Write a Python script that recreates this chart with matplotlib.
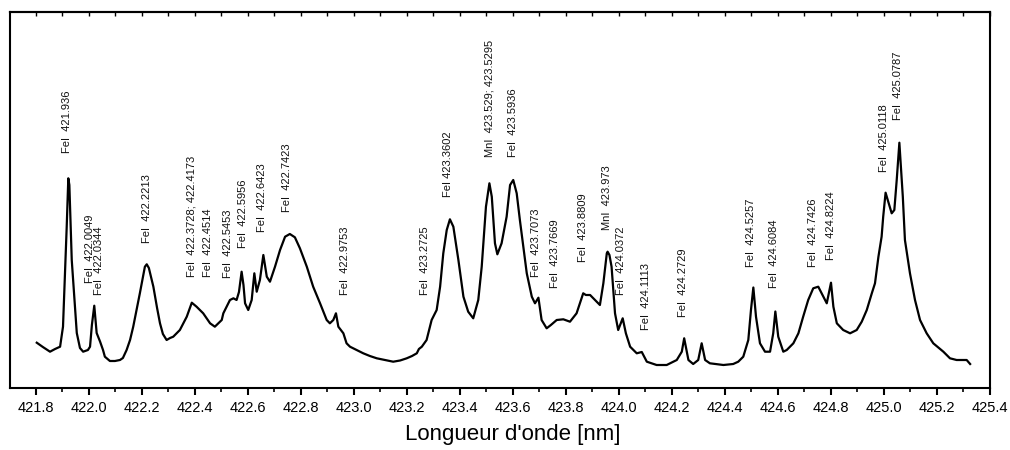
import matplotlib
matplotlib.use("Agg")
import matplotlib.pyplot as plt
from matplotlib.ticker import MultipleLocator

plt.rcParams["font.family"] = ["Liberation Sans", "DejaVu Sans"]

# spectrum (wavelength in nm, intensity in arbitrary units)
wavelength_nm = [
    421.803, 421.826, 421.853, 421.872, 421.891, 421.902, 421.916, 421.922,
    421.926, 421.935, 421.954, 421.966, 421.978, 421.996, 422.004, 422.011,
    422.020, 422.029, 422.042, 422.053, 422.060, 422.079, 422.098, 422.117,
    422.128, 422.142, 422.155, 422.167, 422.192, 422.211, 422.218, 422.226,
    422.243, 422.257, 422.268, 422.279, 422.293, 422.306, 422.318, 422.343,
    422.369, 422.388, 422.406, 422.431, 422.457, 422.475, 422.501, 422.507,
    422.532, 422.545, 422.557, 422.566, 422.576, 422.583, 422.589, 422.601,
    422.614, 422.624, 422.633, 422.645, 422.658, 422.671, 422.683, 422.702,
    422.721, 422.740, 422.758, 422.777, 422.796, 422.822, 422.846, 422.872,
    422.897, 422.909, 422.922, 422.932, 422.941, 422.960, 422.972, 422.985,
    423.010, 423.035, 423.060, 423.086, 423.117, 423.148, 423.174, 423.199,
    423.219, 423.237, 423.245, 423.256, 423.274, 423.293, 423.312, 423.325,
    423.337, 423.350, 423.362, 423.375, 423.394, 423.413, 423.431, 423.450,
    423.469, 423.482, 423.498, 423.511, 423.520, 423.532, 423.541, 423.557,
    423.576, 423.589, 423.601, 423.614, 423.626, 423.652, 423.671, 423.683,
    423.696, 423.708, 423.727, 423.743, 423.765, 423.790, 423.815, 423.840,
    423.865, 423.875, 423.891, 423.916, 423.928, 423.941, 423.954, 423.957,
    423.964, 423.972, 423.985, 423.997, 424.014, 424.026, 424.042, 424.067,
    424.086, 424.105, 424.142, 424.180, 424.218, 424.237, 424.246, 424.262,
    424.280, 424.299, 424.312, 424.325, 424.343, 424.394, 424.431, 424.450,
    424.469, 424.488, 424.498, 424.507, 424.517, 424.532, 424.551, 424.570,
    424.582, 424.590, 424.601, 424.620, 424.633, 424.658, 424.677, 424.695,
    424.714, 424.733, 424.752, 424.771, 424.784, 424.800, 424.809, 424.822,
    424.834, 424.846, 424.872, 424.897, 424.916, 424.935, 424.954, 424.966,
    424.979, 424.991, 424.997, 425.006, 425.016, 425.029, 425.039, 425.048,
    425.058, 425.071, 425.079, 425.098, 425.117, 425.136, 425.161, 425.186,
    425.224, 425.249, 425.274, 425.312, 425.325,
]
intensity = [
    45.3, 41.0, 36.3, 39.0, 41.3, 61.3, 161.3, 209.7,
    203.0, 128.0, 55.0, 40.0, 36.3, 38.0, 41.3, 63.0,
    82.3, 55.0, 46.3, 38.0, 31.3, 27.0, 27.0, 28.0,
    30.0, 38.0, 48.0, 61.3, 94.7, 121.3, 123.7, 120.0,
    101.3, 80.0, 64.7, 54.0, 48.0, 50.0, 51.3, 58.0,
    71.3, 85.3, 81.3, 74.7, 64.7, 61.3, 68.0, 74.7,
    88.0, 89.7, 88.0, 96.0, 116.3, 103.0, 84.7, 78.0,
    88.0, 114.7, 96.3, 108.0, 133.0, 111.3, 106.3, 121.3,
    138.0, 151.3, 154.0, 150.7, 139.7, 121.3, 101.3, 84.7,
    68.0, 64.7, 68.0, 74.7, 61.3, 54.7, 44.7, 41.3,
    38.0, 34.7, 32.0, 29.7, 28.0, 26.3, 27.5, 29.7,
    32.0, 34.7, 39.0, 41.3, 48.0, 68.0, 78.0, 101.3,
    134.7, 158.0, 168.7, 161.3, 128.0, 91.3, 76.3, 69.7,
    88.0, 121.3, 181.3, 204.7, 191.3, 144.7, 133.7, 144.7,
    171.3, 203.0, 208.0, 194.7, 168.0, 114.7, 91.3, 84.7,
    90.3, 68.0, 59.7, 63.0, 68.0, 68.7, 66.3, 74.7,
    94.7, 93.0, 93.0, 86.3, 83.0, 104.7, 134.7, 136.3,
    133.0, 121.3, 74.7, 58.0, 69.7, 54.7, 41.3, 34.7,
    36.0, 26.3, 23.0, 23.0, 28.0, 36.3, 49.7, 28.0,
    24.0, 28.0, 44.7, 28.0, 24.7, 23.0, 24.0, 26.3,
    31.3, 48.0, 78.0, 100.5, 71.3, 44.7, 36.3, 36.3,
    54.7, 76.5, 51.3, 36.3, 38.0, 44.7, 54.7, 71.3,
    88.0, 99.7, 101.3, 91.3, 84.7, 105.3, 81.3, 64.7,
    61.3, 58.0, 54.7, 58.0, 66.3, 78.0, 94.7, 104.7,
    131.3, 151.3, 171.3, 195.3, 186.3, 174.7, 178.0, 208.0,
    245.3, 191.3, 148.0, 114.7, 88.0, 68.0, 54.7, 44.7,
    36.3, 29.7, 28.0, 28.0, 24.0,
]

# line identifications: text, position (nm), height of the text foot
line_labels = [
    "FeI  421.936", "FeI  422.0049", "FeI  422.0344", "FeI  422.2213",
    "FeI  422.3728; 422.4173", "FeI  422.4514", "FeI  422.5453", "FeI  422.5956",
    "FeI  422.6423", "FeI  422.7423", "FeI  422.9753", "FeI  423.2725",
    "FeI 423.3602", "MnI  423.529; 423.5295", "FeI  423.5936", "FeI  423.7073",
    "FeI  423.7669", "FeI  423.8809", "MnI  423.973", "FeI  424.0372",
    "FeI  424.1113", "FeI  424.2729", "FeI  424.5257", "FeI  424.6084",
    "FeI  424.7426", "FeI  424.8224", "FeI  425.0118", "FeI  425.0787",
]
label_x = [
    421.916, 422.004, 422.039, 422.218, 422.388, 422.450, 422.523, 422.580,
    422.652, 422.748, 422.966, 423.268, 423.356, 423.511, 423.599, 423.687,
    423.758, 423.863, 423.954, 424.008, 424.102, 424.243, 424.498, 424.585,
    424.733, 424.799, 425.001, 425.054,
]
label_y = [
    234.7, 105.0, 93.0, 145.3, 111.3, 111.3, 109.7, 139.7,
    156.3, 176.3, 93.0, 93.0, 191.3, 231.3, 231.3, 111.3,
    99.7, 126.3, 158.0, 93.0, 58.0, 71.3, 121.3, 99.7,
    121.3, 128.0, 216.3, 268.0,
]

fig = plt.figure(figsize=(10.1, 4.5), dpi=100)
ax = fig.add_axes([10 / 1010, 62 / 450, 980 / 1010, 376 / 450])

ax.plot(wavelength_nm, intensity, color="black", lw=1.6)

for txt, x, y in zip(line_labels, label_x, label_y):
    ax.text(x, y, txt, rotation=90, ha="center", va="bottom",
            fontsize=8, color="#111111")

ax.set_xlim(421.702, 425.4)
ax.set_ylim(0, 376)
ax.set_yticks([])

ax.xaxis.set_major_locator(MultipleLocator(0.2))
ax.xaxis.set_minor_locator(MultipleLocator(0.1))
ax.xaxis.set_major_formatter(plt.FuncFormatter(lambda v, p: f"{v:.1f}"))
ax.tick_params(axis="x", which="major", direction="out", length=5,
               width=1.5, labelsize=10.5, pad=4)
ax.tick_params(axis="x", which="minor", direction="out", length=3, width=1.2)

top = ax.secondary_xaxis("top")
top.xaxis.set_major_locator(MultipleLocator(0.1))
top.tick_params(axis="x", direction="in", length=3, width=1.0,
                labeltop=False)
top.spines["top"].set_linewidth(1.5)

for s in ax.spines.values():
    s.set_linewidth(1.5)

ax.set_xlabel("Longueur d'onde [nm]", fontsize=16)
ax.xaxis.set_label_coords(0.513, -0.095)

fig.savefig("out.png", dpi=100)
